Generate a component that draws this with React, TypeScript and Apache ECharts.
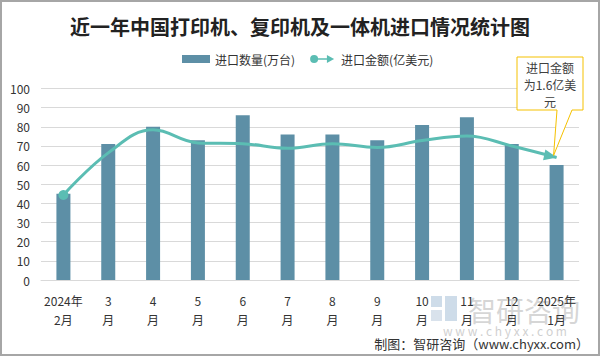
import React, { useEffect, useRef } from "react";
import * as echarts from "echarts";

const title = "近一年中国打印机、复印机及一体机进口情况统计图";
const categories = ["2024年\n2月", "3\n月", "4\n月", "5\n月", "6\n月", "7\n月", "8\n月", "9\n月", "10\n月", "11\n月", "12\n月", "2025年\n1月"];
const quantity = [45, 71, 80, 73, 86, 76, 76, 73, 81, 85, 71, 60];
const amount = [1.11, 1.66, 1.96, 1.79, 1.78, 1.72, 1.78, 1.73, 1.82, 1.88, 1.75, 1.6];
const yTicks = { min: 0, max: 100, interval: 10 };
const seriesNames = ["进口数量(万台)", "进口金额(亿美元)"];
const calloutText = "进口金额\n为1.6亿美\n元";
const sourceText = "制图：智研咨询（www.chyxx.com）";

const FONT = "'Noto Sans CJK SC', 'Microsoft YaHei', sans-serif";
const BAR = "#5d8fa6";
const LINE = "#5bbdb3";

export default function App() {
  const ref = useRef<HTMLDivElement>(null);
  useEffect(() => {
    document.body.style.margin = "0";
    const chart = echarts.init(ref.current!, undefined, { renderer: "svg" });
    const lineData = amount.map((v, i) => {
      if (i === 0) return { value: v, symbol: "circle", symbolSize: 10 };
      if (i === amount.length - 1)
        return {
          value: v,
          symbol: "path://M0,0 L10,5 L0,10 Z",
          symbolSize: [13, 11],
          symbolRotate: -12,
          symbolOffset: [-6, -1.3],
        };
      return { value: v, symbol: "none" };
    });
    const option: any = {
      animation: false,
      textStyle: { fontFamily: FONT },
      title: {
        text: title,
        left: "center",
        top: 11,
        textStyle: { fontSize: 20, fontWeight: "bold", color: "#222", fontFamily: FONT },
      },
      legend: {
        left: 177,
        top: 48,
        itemGap: 15,
        itemWidth: 28,
        itemHeight: 8,
        textStyle: { fontSize: 12, color: "#333" },
        data: [
          { name: seriesNames[0], icon: "rect" },
          {
            name: seriesNames[1],
            icon: "path://M0,5 A5,5 0 1,1 10,5 A5,5 0 1,1 0,5 Z M9,4 L22,4 L22,6 L9,6 Z M21,0 L30,5 L21,10 Z",
          },
        ],
      },
      grid: { left: 41, right: 21, top: 88.5, bottom: 76 },
      xAxis: {
        type: "category",
        data: categories,
        axisLine: { lineStyle: { color: "#d9d9d9" } },
        axisTick: { show: false },
        axisLabel: { color: "#333", fontSize: 12, lineHeight: 19, margin: 11, interval: 0 },
      },
      yAxis: [
        {
          type: "value",
          min: yTicks.min,
          max: yTicks.max,
          interval: yTicks.interval,
          axisLine: { show: false },
          axisTick: { show: false },
          splitLine: { lineStyle: { color: "#d9d9d9" } },
          axisLabel: { color: "#333", fontSize: 12, margin: 11 },
        },
        { type: "value", min: 0, max: 2.5, show: false, splitLine: { show: false } },
      ],
      series: [
        {
          name: seriesNames[0],
          type: "bar",
          data: quantity,
          barWidth: 14,
          itemStyle: { color: BAR },
        },
        {
          name: seriesNames[1],
          type: "line",
          yAxisIndex: 1,
          data: lineData,
          smooth: 0.4,
          lineStyle: { color: LINE, width: 3 },
          itemStyle: { color: LINE },
          z: 5,
        },
      ],
    };
    chart.setOption(option);
    const p = chart.convertToPixel({ xAxisIndex: 0, yAxisIndex: 1 }, [amount.length - 1, amount[amount.length - 1]]) as number[];
    const tx = p[0] - 3;
    const ty = p[1] - 2;
    chart.setOption({
      graphic: [
        {
          type: "rect",
          shape: { x: 1, y: 1, width: 598, height: 354 },
          style: { fill: "none", stroke: "#a6a6a6", lineWidth: 2 },
          silent: true,
          z: 100,
        },
        {
          type: "polygon",
          shape: {
            points: [
              [517, 57],
              [583, 57],
              [583, 110],
              [572, 110],
              [tx, ty],
              [557, 110],
              [517, 110],
            ],
          },
          style: { fill: "#fff", stroke: "#f5c100", lineWidth: 1 },
          z: 50,
        },
        {
          type: "text",
          x: 550,
          y: 59,
          style: {
            text: calloutText,
            fontSize: 12,
            lineHeight: 17,
            fill: "#404040",
            align: "center",
            verticalAlign: "top",
            fontFamily: FONT,
          },
          z: 51,
        },
        {
          type: "group",
          z: 1,
          children: [
            {
              type: "rect",
              shape: { x: 431, y: 296, width: 11, height: 11 },
              style: { fill: "#b9cde0", opacity: 0.7 },
            },
            {
              type: "rect",
              shape: { x: 445, y: 296, width: 12, height: 25 },
              style: { fill: "#b9cde0", opacity: 0.7 },
            },
            {
              type: "rect",
              shape: { x: 431, y: 310, width: 11, height: 11 },
              style: { fill: "#c9d6e4", opacity: 0.7 },
            },
            {
              type: "text",
              x: 524,
              y: 310,
              style: {
                text: "智研咨询",
                fontSize: 28,
                fill: "#c4c4c4",
                opacity: 0.7,
                align: "center",
                verticalAlign: "middle",
                fontFamily: FONT,
              },
            },
            {
              type: "text",
              x: 505,
              y: 330,
              style: {
                text: "w w w . c h y x x . c o m",
                fontSize: 12,
                fill: "#c4c4c4",
                opacity: 0.8,
                align: "center",
                verticalAlign: "middle",
                fontFamily: FONT,
              },
            },
          ],
        },
        {
          type: "text",
          x: 589,
          y: 343,
          style: {
            text: sourceText,
            fontSize: 13,
            fill: "#333",
            align: "right",
            verticalAlign: "middle",
            fontFamily: FONT,
          },
          z: 60,
        },
      ],
    });
    return () => chart.dispose();
  }, []);
  return <div ref={ref} style={{ width: 600, height: 356, background: "#fff" }} />;
}
